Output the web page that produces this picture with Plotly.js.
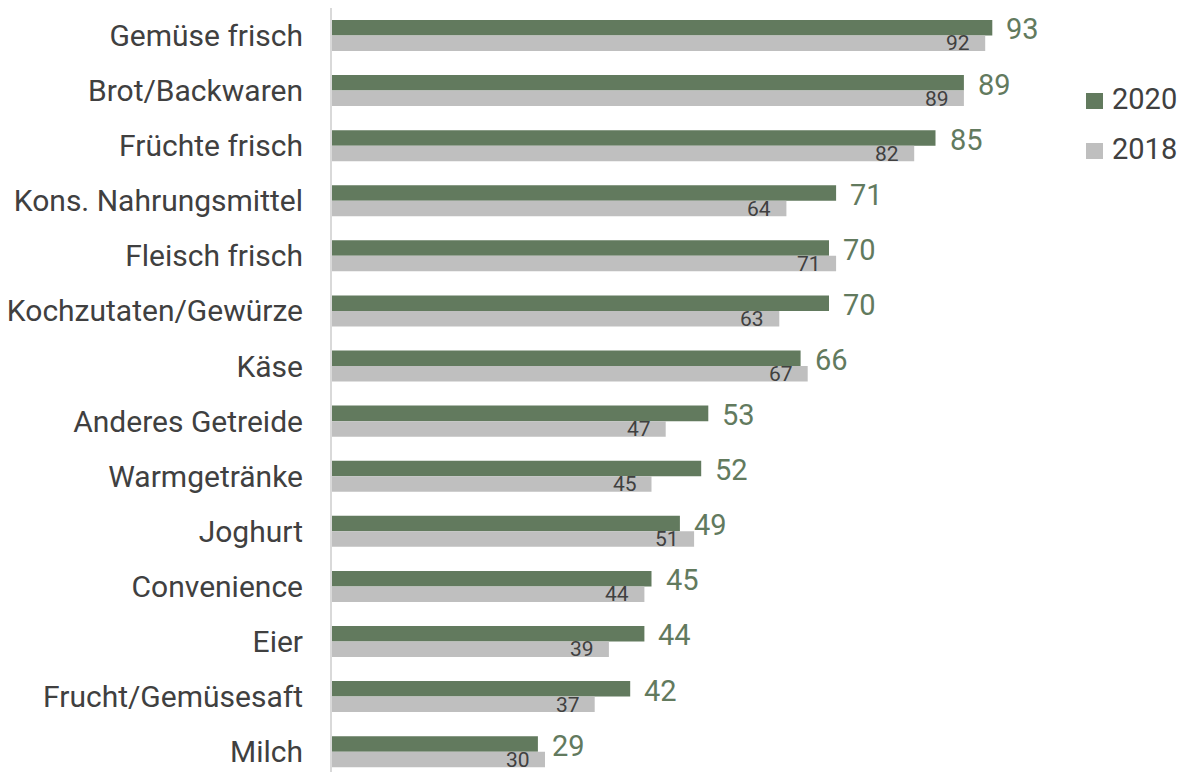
<!DOCTYPE html>
<html>
<head>
<meta charset="utf-8">
<script src="https://cdn.plot.ly/plotly-3.0.1.min.js"></script>
<style>html,body{margin:0;padding:0;background:#fff;}#chart{width:1182px;height:772px;}</style>
</head>
<body>
<div id="chart"></div>
<script>
const categories = ["Gemüse frisch","Brot/Backwaren","Früchte frisch","Kons. Nahrungsmittel","Fleisch frisch","Kochzutaten/Gewürze","Käse","Anderes Getreide","Warmgetränke","Joghurt","Convenience","Eier","Frucht/Gemüsesaft","Milch"];
const values2020 = [93,89,85,71,70,70,66,53,52,49,45,44,42,29];
const values2018 = [92,89,82,64,71,63,67,47,45,51,44,39,37,30];
const seriesNames = ["2020","2018"];

const green = "#627a5e";
const gray = "#bfbfbf";
const textDark = "#404040";
const colors = [green, gray];

const W = 1182, H = 772, ML = 332, MR = 140, MT = 8, MB = 0;
const PW = W - ML - MR, PH = H - MT - MB;
const px2x = p => (p - ML) / PW;
const px2y = p => (H - MB - p) / PH;

const traces = [
  {type:"bar", orientation:"h", name:seriesNames[0], y:categories, x:values2020,
   marker:{color:green}, hoverinfo:"x+y"},
  {type:"bar", orientation:"h", name:seriesNames[1], y:categories, x:values2018,
   marker:{color:gray}, hoverinfo:"x+y"}
];

const annotations = [];
categories.forEach((c,i)=>{
  annotations.push({x:values2020[i], y:c, xref:"x", yref:"y", text:String(values2020[i]),
    showarrow:false, xanchor:"left", yanchor:"middle", xshift:12, yshift:6,
    font:{family:"Roboto", size:29, color:green}});
  annotations.push({x:values2018[i], y:c, xref:"x", yref:"y", text:String(values2018[i]),
    showarrow:false, xanchor:"right", yanchor:"middle", xshift:-13, yshift:-8,
    font:{family:"Roboto", size:21, color:textDark}});
});

// custom legend
const shapes = [];
const legendCenters = [101, 151];
seriesNames.forEach((n,i)=>{
  const cy = legendCenters[i];
  shapes.push({type:"rect", xref:"paper", yref:"paper",
    x0:px2x(1086), x1:px2x(1103), y0:px2y(cy+8), y1:px2y(cy-8),
    fillcolor:colors[i], line:{width:0}});
  annotations.push({xref:"paper", yref:"paper", x:px2x(1110), y:px2y(cy-2), text:n,
    showarrow:false, xanchor:"left", yanchor:"middle",
    font:{family:"Roboto", size:29, color:textDark}});
});

const layout = {
  width:W, height:H,
  margin:{l:ML, r:MR, t:MT, b:MB, pad:0, autoexpand:false},
  paper_bgcolor:"#ffffff", plot_bgcolor:"#ffffff",
  barmode:"group", bargap:0.437, bargroupgap:0,
  font:{family:"Roboto", color:textDark},
  xaxis:{range:[0,100], visible:false, showgrid:false, zeroline:false, fixedrange:true},
  yaxis:{type:"category", range:[13.369,-0.499], showline:true, linecolor:"#d9d9d9", linewidth:2,
    showgrid:false, zeroline:false, ticks:"", ticklabelstandoff:21,
    tickfont:{family:"Roboto", size:30, color:textDark}, fixedrange:true, automargin:false},
  showlegend:false,
  shapes:shapes,
  annotations:annotations
};

Plotly.newPlot("chart", traces, layout, {displayModeBar:false, staticPlot:true});
</script>
</body>
</html>
